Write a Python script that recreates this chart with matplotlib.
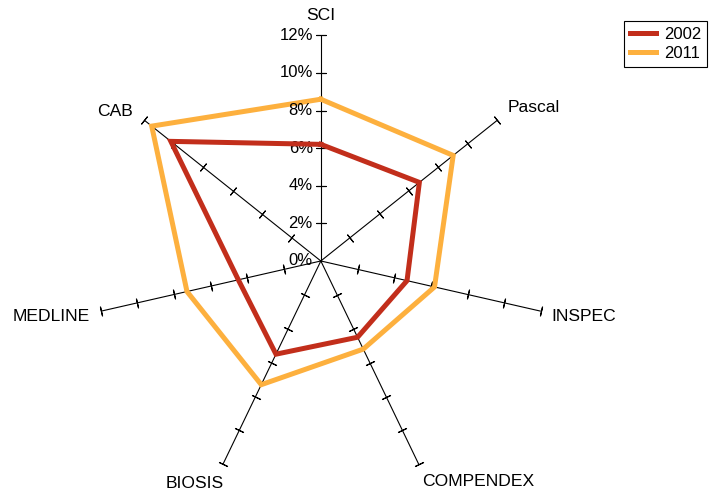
import matplotlib
matplotlib.use("Agg")
import matplotlib.pyplot as plt
import numpy as np

plt.rcParams['font.family'] = ['Liberation Sans', 'DejaVu Sans']

# databases, clockwise from the top
databases = ['SCI', 'Pascal', 'INSPEC', 'COMPENDEX', 'BIOSIS', 'MEDLINE', 'CAB']
share_2002 = [6.2, 6.7, 4.7, 4.5, 5.5, 4.5, 10.2]
share_2011 = [8.6, 9.0, 6.2, 5.2, 7.3, 7.3, 11.5]
ticks = [0, 2, 4, 6, 8, 10, 12]
tick_labels = ['0%', '2%', '4%', '6%', '8%', '10%', '12%']

# label offsets in pixels from the end of each spoke
label_offsets = [(0, 20), (36, 13), (43, -5), (59, -17), (-28, -19), (-50, -5), (-29, 9)]

fig = plt.figure(figsize=(7.18, 4.94), dpi=100)
ax = fig.add_axes([0.1325, 0.0148, 0.6287, 0.9138], projection='polar')
ax.set_theta_zero_location('N')
ax.set_theta_direction(-1)
ax.set_ylim(0, 12)
ax.grid(False)
ax.spines['polar'].set_visible(False)
ax.set_xticks([])
ax.set_yticks([])
ax.patch.set_visible(False)

n = len(databases)
angles = np.arange(n) * 2 * np.pi / n

# spokes with cross ticks
for i, th in enumerate(angles):
    ax.plot([th, th], [0, 12], color='black', lw=0.8, zorder=1)
    screen_ang = 90 - np.degrees(th)
    ax.plot([th] * 6, ticks[1:], ls='none', marker=(2, 2, screen_ang),
            markersize=7, markeredgewidth=0.8, color='black', zorder=1, clip_on=False)
    ax.annotate(databases[i], xy=(th, 12), xytext=label_offsets[i],
                textcoords='offset pixels', ha='center', va='center', fontsize=12.6,
                annotation_clip=False)

# percentage labels on the SCI spoke
for v, lab in zip(ticks, tick_labels):
    ax.annotate(lab, xy=(0, v), xytext=(-8, 0), textcoords='offset pixels',
                ha='right', va='center', fontsize=12, annotation_clip=False)

th_closed = np.append(angles, angles[0])
ax.plot(th_closed, share_2002 + share_2002[:1], color='#C22E1B', lw=3.6,
        solid_joinstyle='miter', label='2002', zorder=3, clip_on=False)
ax.plot(th_closed, share_2011 + share_2011[:1], color='#FDB03E', lw=3.6,
        solid_joinstyle='miter', label='2011', zorder=2, clip_on=False)

leg = fig.legend(loc='upper right', bbox_to_anchor=(0.996, 0.974), fontsize=12,
                 fancybox=False, edgecolor='black', framealpha=1,
                 handlelength=1.6, handletextpad=0.45, borderpad=0.35,
                 labelspacing=0.25)
leg.get_frame().set_linewidth(0.8)

fig.savefig('out.png', dpi=100)
